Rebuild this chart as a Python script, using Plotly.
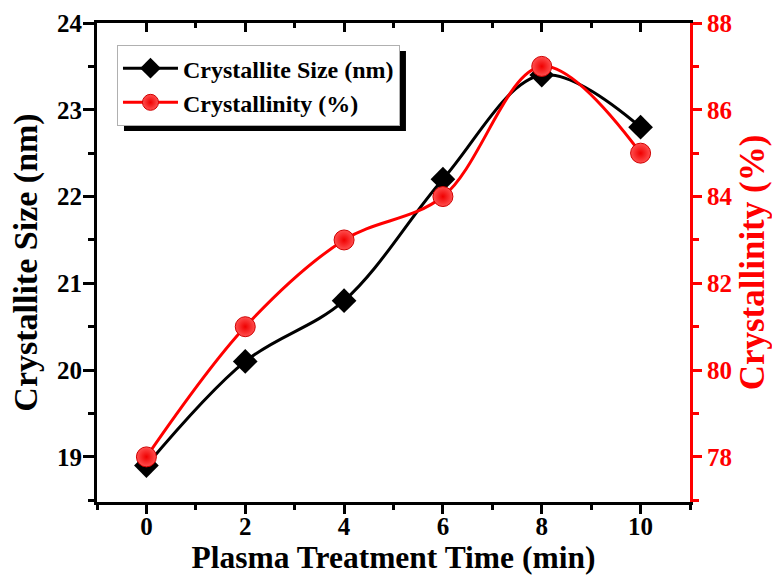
import plotly.graph_objects as go

time_min = [0, 2, 4, 6, 8, 10]
crystallite_size = [18.9, 20.1, 20.8, 22.2, 23.4, 22.8]
crystallinity = [78, 81, 83, 84, 87, 85]

x_ticks = [0, 2, 4, 6, 8, 10]
y1_ticks = [19, 20, 21, 22, 23, 24]
y2_ticks = [78, 80, 82, 84, 86, 88]

FONT = "Liberation Serif"

fig = go.Figure()
fig.add_trace(go.Scatter(
    x=time_min, y=crystallite_size, name="<b>Crystallite Size (nm)</b>",
    mode="lines+markers",
    line=dict(color="black", width=3, shape="spline", smoothing=1.0),
    marker=dict(symbol="diamond", size=19, color="black"),
    xaxis="x", yaxis="y",
))
fig.add_trace(go.Scatter(
    x=time_min, y=crystallinity, name="<b>Crystallinity (%)</b>",
    mode="lines+markers",
    line=dict(color="#ff0000", width=3, shape="spline", smoothing=1.0),
    marker=dict(symbol="circle", size=20, color="#ff5050",
                gradient=dict(type="radial", color="#f00000"),
                line=dict(color="#d00000", width=1)),
    xaxis="x", yaxis="y2",
))
# invisible trace to anchor the top axis
fig.add_trace(go.Scatter(
    x=time_min, y=crystallite_size, mode="markers", marker=dict(opacity=0, size=1),
    showlegend=False, hoverinfo="skip", xaxis="x2", yaxis="y",
))

fig.update_layout(
    width=772, height=580,
    margin=dict(l=97, r=82, t=23, b=78, autoexpand=False),
    paper_bgcolor="white", plot_bgcolor="white",
    font=dict(family=FONT, color="black"),
    showlegend=True,
    legend=dict(
        x=0.0337, y=0.954, xanchor="left", yanchor="top",
        bgcolor="white", bordercolor="#b0b0b0", borderwidth=1,
        font=dict(family=FONT, size=24, color="black"),
        itemwidth=55, tracegroupgap=0,
    ),
    xaxis=dict(
        range=[-1, 11], tickvals=x_ticks, ticktext=[f"<b>{v}</b>" for v in x_ticks],
        showgrid=False, zeroline=False, automargin=False,
        showline=True, linecolor="black", linewidth=3,
        ticks="outside", ticklen=9, tickwidth=3, tickcolor="black",
        minor=dict(dtick=1, tick0=1, ticks="outside", ticklen=5, tickwidth=3, tickcolor="black"),
        tickfont=dict(family=FONT, size=25, color="black"),
        ticklabelstandoff=-9,
        title=dict(text="<b>Plasma Treatment Time (min)</b>",
                   font=dict(family=FONT, size=31.5, color="black"), standoff=6),
    ),
    xaxis2=dict(
        range=[-1, 11], overlaying="x", side="top", anchor="y",
        tickvals=x_ticks, showticklabels=False, automargin=False,
        showgrid=False, zeroline=False,
        showline=True, linecolor="black", linewidth=3,
        ticks="inside", ticklen=9, tickwidth=3, tickcolor="black",
        minor=dict(dtick=1, tick0=1, ticks="inside", ticklen=5, tickwidth=3, tickcolor="black"),
    ),
    yaxis=dict(
        range=[18.48, 24], tickvals=y1_ticks, ticktext=[f"<b>{v}</b>" for v in y1_ticks],
        showgrid=False, zeroline=False, automargin=False,
        showline=True, linecolor="black", linewidth=3,
        ticks="outside", ticklen=11, tickwidth=3, tickcolor="black",
        minor=dict(dtick=0.5, tick0=18.5, ticks="outside", ticklen=6, tickwidth=3, tickcolor="black"),
        tickfont=dict(family=FONT, size=25, color="black"),
        ticklabelstandoff=-4,
        title=dict(text="<b>Crystallite Size (nm)</b>",
                   font=dict(family=FONT, size=34, color="black"), standoff=10),
    ),
    yaxis2=dict(
        range=[76.96, 88], tickvals=y2_ticks, ticktext=[f"<b>{v}</b>" for v in y2_ticks],
        overlaying="y", side="right", anchor="x", automargin=False,
        showgrid=False, zeroline=False,
        showline=True, linecolor="#ff0000", linewidth=3,
        ticks="outside", ticklen=9, tickwidth=3, tickcolor="#ff0000",
        minor=dict(dtick=1, tick0=77, ticks="outside", ticklen=6, tickwidth=3, tickcolor="#ff0000"),
        tickfont=dict(family=FONT, size=25, color="#ff0000"),
        title=dict(text="<b>Crystallinity (%)</b>",
                   font=dict(family=FONT, size=35, color="#ff0000"), standoff=8),
    ),
)

# legend drop shadow
fig.add_shape(type="rect", xref="paper", yref="paper",
              x0=0.0455, x1=0.521, y0=0.7745, y1=0.9415,
              fillcolor="black", line=dict(width=0), layer="above")

fig.write_html("out.html")
